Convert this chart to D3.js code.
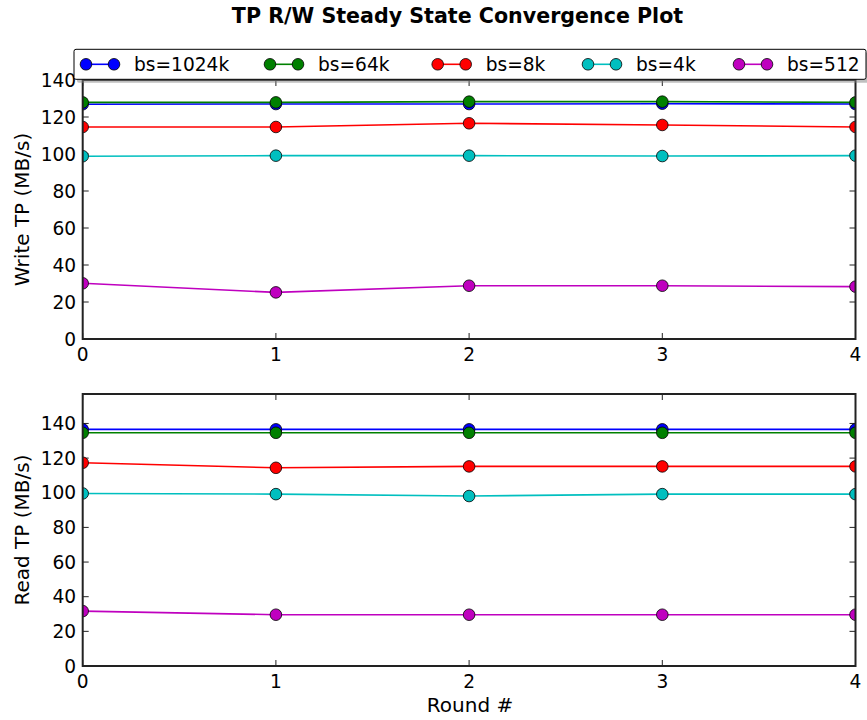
<!DOCTYPE html>
<html><head><meta charset="utf-8">
<script src="https://cdn.jsdelivr.net/npm/d3@7"></script>
<style>body{margin:0;background:#fff;} svg{display:block;font-family:"DejaVu Sans",sans-serif;}</style>
</head><body>
<script>
const rounds = [0, 1, 2, 3, 4];
const seriesNames = ["bs=1024k", "bs=64k", "bs=8k", "bs=4k", "bs=512"];
const seriesColors = ["#0000ff", "#008000", "#ff0000", "#00bfbf", "#bf00bf"];
const writeTP = [
  [126.9, 127.0, 127.0, 127.2, 127.0],
  [127.9, 127.9, 128.3, 128.3, 127.9],
  [114.6, 114.6, 116.6, 115.7, 114.6],
  [98.8, 99.1, 99.1, 98.9, 99.1],
  [30.1, 25.2, 28.8, 28.8, 28.3]
];
const readTP = [
  [136.6, 136.6, 136.6, 136.6, 136.6],
  [134.6, 134.6, 134.6, 134.6, 134.6],
  [117.3, 114.4, 115.2, 115.2, 115.2],
  [99.6, 99.2, 98.1, 99.2, 99.2],
  [31.7, 29.6, 29.6, 29.6, 29.6]
];
const yTicks = [0, 20, 40, 60, 80, 100, 120, 140];
const writeMax = 140, readMax = 157;

const W = 867, H = 720;
const svg = d3.select("body").append("svg").attr("width", W).attr("height", H);
const L = 82.7, R = 855.5;
const x = d3.scaleLinear().domain([0, 4]).range([L, R]);
const FS = 18.6, LFS = 20;

svg.append("text").attr("x", 457.5).attr("y", 22.7).attr("text-anchor", "middle")
  .attr("font-size", 20.6).attr("font-weight", "bold").text("TP R/W Steady State Convergence Plot");

function panel(id, top, bottom, ymax, data, ylabel) {
  const y = d3.scaleLinear().domain([0, ymax]).range([bottom, top]);
  const g = svg.append("g");
  g.append("clipPath").attr("id", id).append("rect")
    .attr("x", L).attr("y", top).attr("width", R - L).attr("height", bottom - top);
  const tl = 6;
  const ax = g.append("g");
  ax.selectAll(".yl").data(yTicks).join("line")
    .attr("x1", L).attr("x2", L + tl).attr("y1", d => y(d)).attr("y2", d => y(d)).attr("stroke", "#222");
  ax.selectAll(".yr").data(yTicks).join("line")
    .attr("x1", R).attr("x2", R - tl).attr("y1", d => y(d)).attr("y2", d => y(d)).attr("stroke", "#222");
  ax.selectAll(".xb").data(rounds).join("line")
    .attr("x1", d => x(d)).attr("x2", d => x(d)).attr("y1", bottom).attr("y2", bottom - tl).attr("stroke", "#222");
  ax.selectAll(".xt").data(rounds).join("line")
    .attr("x1", d => x(d)).attr("x2", d => x(d)).attr("y1", top).attr("y2", top + tl).attr("stroke", "#222");
  ax.selectAll(".ytl").data(yTicks).join("text")
    .attr("x", L - 6.5).attr("y", d => y(d)).attr("dy", "0.36em").attr("text-anchor", "end")
    .attr("font-size", FS).text(d => d);
  ax.selectAll(".xtl").data(rounds).join("text")
    .attr("x", d => x(d)).attr("y", bottom + 22).attr("text-anchor", "middle")
    .attr("font-size", FS).text(d => d);
  g.append("text").attr("transform", `translate(28.5,${(top + bottom) / 2}) rotate(-90)`)
    .attr("text-anchor", "middle").attr("font-size", LFS).text(ylabel);
  const line = d3.line().x((d, i) => x(rounds[i])).y(d => y(d));
  const sg = g.append("g").attr("clip-path", `url(#${id})`);
  data.forEach((vals, si) => {
    sg.append("path").attr("d", line(vals)).attr("fill", "none")
      .attr("stroke", seriesColors[si]).attr("stroke-width", 1.6);
    sg.selectAll(null).data(vals).join("circle")
      .attr("cx", (d, i) => x(rounds[i])).attr("cy", d => y(d)).attr("r", 5.8)
      .attr("fill", seriesColors[si]).attr("stroke", "#000").attr("stroke-width", 0.8);
  });
  g.append("rect").attr("x", L).attr("y", top).attr("width", R - L).attr("height", bottom - top)
    .attr("fill", "none").attr("stroke", "#222").attr("stroke-width", 2);
}

panel("cw", 80, 339, writeMax, writeTP, "Write TP (MB/s)");
panel("cr", 394, 666, readMax, readTP, "Read TP (MB/s)");

svg.append("text").attr("x", 470).attr("y", 712).attr("text-anchor", "middle")
  .attr("font-size", LFS).text("Round #");

const lg = svg.append("g");
const lx = 74, ly = 49.3, lw = 792, lh = 30;
lg.append("rect").attr("x", lx + 3).attr("y", ly + 3.5).attr("width", lw).attr("height", lh)
  .attr("rx", 2).attr("fill", "#808080").attr("opacity", 0.5);
lg.append("rect").attr("x", lx).attr("y", ly).attr("width", lw).attr("height", lh)
  .attr("rx", 2).attr("fill", "#fff").attr("stroke", "#000").attr("stroke-width", 1);
const legStarts = [86, 270, 437.7, 588, 739];
seriesNames.forEach((name, i) => {
  const x0 = legStarts[i], x1 = x0 + 28, cy = 64.3;
  lg.append("line").attr("x1", x0).attr("x2", x1).attr("y1", cy).attr("y2", cy)
    .attr("stroke", seriesColors[i]).attr("stroke-width", 1.6);
  [x0, x1].forEach(cx => lg.append("circle").attr("cx", cx).attr("cy", cy).attr("r", 5.8)
    .attr("fill", seriesColors[i]).attr("stroke", "#000").attr("stroke-width", 0.8));
  lg.append("text").attr("x", x1 + 20).attr("y", 71.2).attr("font-size", FS).text(name);
});
</script>
</body></html>
